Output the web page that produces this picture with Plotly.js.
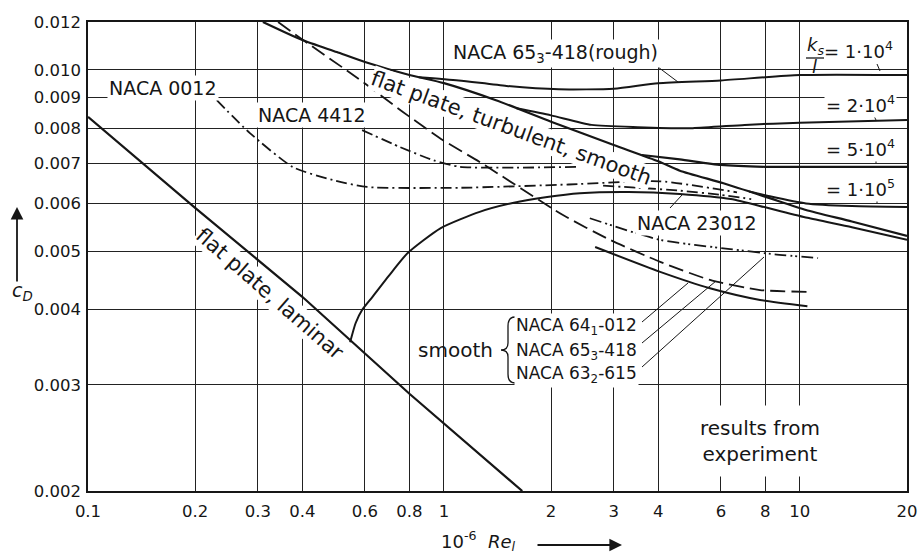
<!DOCTYPE html>
<html><head><meta charset="utf-8">
<script src="https://cdn.plot.ly/plotly-3.0.1.min.js"></script>
<style>html,body{margin:0;padding:0;background:#fff}#chart{width:920px;height:553px}</style>
</head><body><div id="chart"></div>
<script>
// ---------- data (x = 10^-6 Re, y = c_D) ----------
const xTicks = [0.1, 0.2, 0.3, 0.4, 0.6, 0.8, 1, 2, 3, 4, 6, 8, 10, 20];
const xTickText = ["0.1", "0.2", "0.3", "0.4", "0.6", "0.8", "1", "2", "3", "4", "6", "8", "10", "20"];
const yTicks = [0.002, 0.003, 0.004, 0.005, 0.006, 0.007, 0.008, 0.009, 0.010, 0.012];
const yTickText = ["0.002", "0.003", "0.004", "0.005", "0.006", "0.007", "0.008", "0.009", "0.010", "0.012"];

const laminarRe = [0.1, 0.2, 0.4, 0.8, 1.66];
const laminarCd = [0.00835, 0.0059, 0.0042, 0.0029, 0.0020];

const turbRe = [0.31, 0.4, 0.5, 0.6, 0.8, 1, 1.4, 2, 3, 4, 4.6, 6.1, 8.1, 10.4, 14, 20];
const turbCd = [0.0120, 0.0112, 0.0107, 0.0103, 0.0098, 0.0095, 0.0089, 0.0082, 0.0075, 0.00705, 0.0068, 0.00648, 0.00614, 0.00585, 0.0056, 0.0053];

const transRe = [0.545, 0.565, 0.59, 0.63, 0.7, 0.79, 0.98, 1.26, 1.56, 1.95, 2.41, 3.3, 4.6, 6.4, 8.1, 10.5, 14, 20];
const transCd = [0.00353, 0.0038, 0.0040, 0.0042, 0.00455, 0.00496, 0.00546, 0.00581, 0.00601, 0.00615, 0.00624, 0.00627, 0.00622, 0.0061, 0.0059, 0.00568, 0.00548, 0.00522];

const rough1Re = [0.85, 1.1, 1.5, 2.1, 3, 4, 6, 10, 20];
const rough1Cd = [0.00972, 0.0096, 0.0094, 0.00928, 0.0093, 0.0095, 0.0096, 0.0098, 0.0098];
const rough2Re = [1.6, 2, 2.6, 3.5, 5, 7, 10, 20];
const rough2Cd = [0.00863, 0.0084, 0.0081, 0.00803, 0.0080, 0.0081, 0.00817, 0.00825];
const rough3Re = [3.6, 4.6, 6, 8, 12, 20];
const rough3Cd = [0.00722, 0.0071, 0.00695, 0.0069, 0.0069, 0.0069];
const rough4Re = [7.2, 8.1, 10.4, 14, 20];
const rough4Cd = [0.00628, 0.00618, 0.0060, 0.00594, 0.00592];

const naca0012Re = [0.23, 0.285, 0.377, 0.488, 0.608, 1.11, 2.24, 4.04, 6.66];
const naca0012Cd = [0.0089, 0.00785, 0.00689, 0.00656, 0.00639, 0.00637, 0.00645, 0.00653, 0.00626];
const naca4412Re = [0.589, 0.753, 0.932, 1.11, 1.6, 2.41];
const naca4412Cd = [0.00794, 0.00744, 0.00708, 0.0069, 0.00688, 0.0069];
const naca23012Re = [2.8, 3.5, 4.6, 6, 7.3];
const naca23012Cd = [0.00642, 0.00637, 0.0063, 0.0062, 0.0061];
const naca653Re = [0.342, 0.402, 0.57, 0.767, 0.994, 1.26, 2.16, 2.93, 4.05, 5.59, 7.73, 10.5];
const naca653Cd = [0.0120, 0.0112, 0.0097, 0.00851, 0.00764, 0.00703, 0.00574, 0.00522, 0.0048, 0.00448, 0.00431, 0.00428];
const naca641Re = [2.66, 4.05, 5.59, 7.73, 10.5];
const naca641Cd = [0.00508, 0.00462, 0.00434, 0.00415, 0.00405];
const naca632Re = [2.57, 4.05, 6.37, 8.5, 11.25];
const naca632Cd = [0.00567, 0.00522, 0.00504, 0.00494, 0.00487];

// ---------- styling ----------
const INK = '#161616';
const FONT = 'DejaVu Sans, Liberation Sans, sans-serif';
const L = 88, T = 22, W = 819, H = 469;
const P = (px, py) => ({ x: (px - L) / W, y: (T + H - py) / H });

function curve(x, y, dash, width, spline) {
  return { x, y, type: 'scatter', mode: 'lines', hoverinfo: 'skip',
    line: { color: INK, width: width || 2, dash: dash || 'solid', shape: spline === false ? 'linear' : 'spline', smoothing: 0.6 } };
}
const DASHDOT = '11px,4px,2px,4px';
const DASHDOTDOT = '12px,4px,2px,3px,2px,4px';
const LONGDASH = '15px,6px';

const traces = [
  curve(laminarRe, laminarCd, 'solid', 2.2, false),
  curve(turbRe, turbCd, 'solid', 2.2),
  curve(transRe, transCd, 'solid', 2),
  curve(rough1Re, rough1Cd, 'solid', 2),
  curve(rough2Re, rough2Cd, 'solid', 2),
  curve(rough3Re, rough3Cd, 'solid', 2.2),
  curve(rough4Re, rough4Cd, 'solid', 2),
  curve(naca0012Re, naca0012Cd, DASHDOT, 1.8),
  curve(naca4412Re, naca4412Cd, DASHDOT, 1.8),
  curve(naca23012Re, naca23012Cd, DASHDOT, 1.8),
  curve(naca653Re, naca653Cd, LONGDASH, 1.8),
  curve(naca641Re, naca641Cd, 'solid', 2),
  curve(naca632Re, naca632Cd, DASHDOTDOT, 1.8)
];

function label(text, px, py, size, extra) {
  const p = P(px, py);
  return Object.assign({ xref: 'paper', yref: 'paper', x: p.x, y: p.y, text, showarrow: false,
    xanchor: 'center', yanchor: 'middle', font: { family: FONT, size: size, color: INK },
    bgcolor: 'white', borderpad: 1 }, extra || {});
}
function seg(x0, y0, x1, y1, w) {
  const a = P(x0, y0), b = P(x1, y1);
  return { type: 'line', xref: 'paper', yref: 'paper', x0: a.x, y0: a.y, x1: b.x, y1: b.y,
    line: { color: INK, width: w || 1 }, layer: 'above' };
}
function pt(px, py) { const p = P(px, py); return p.x.toFixed(5) + ',' + p.y.toFixed(5); }

const bracePath = 'M' + pt(515, 317) + ' Q' + pt(508, 317) + ' ' + pt(508, 326) + ' L' + pt(508, 343) +
  ' Q' + pt(508, 350) + ' ' + pt(501, 350) + ' Q' + pt(508, 350) + ' ' + pt(508, 357) +
  ' L' + pt(508, 374) + ' Q' + pt(508, 383) + ' ' + pt(515, 383);

const annotations = [
  label('NACA 0012', 163, 88, 19),
  label('NACA 4412', 312, 115, 19),
  label('NACA 65<sub>3</sub>-418(rough)', 555, 53, 19),
  label('flat plate, turbulent, smooth', 511, 128, 21, { textangle: 20, borderpad: 0 }),
  label('flat plate, laminar', 270, 294, 21, { textangle: 41, borderpad: 0 }),
  label('NACA 23012', 697, 223, 19),
  label('smooth', 455, 350, 20, { bgcolor: 'rgba(0,0,0,0)' }),
  label('NACA 64<sub>1</sub>-012', 576, 326, 17),
  label('NACA 65<sub>3</sub>-418', 576, 351, 17),
  label('NACA 63<sub>2</sub>-615', 576, 374, 17),
  label('results from<br>experiment', 760, 441, 20, { borderpad: 10 }),
  label('<i>k<sub>s</sub></i>', 815, 46, 18, { bgcolor: 'rgba(0,0,0,0)' }),
  label('<i>l</i>', 814, 67, 18, { bgcolor: 'rgba(0,0,0,0)' }),
  label('= 1·10<sup>4</sup>', 858, 50, 18, { bgcolor: 'rgba(0,0,0,0)' }),
  label('= 2·10<sup>4</sup>', 860, 104, 18),
  label('= 5·10<sup>4</sup>', 860, 148, 18),
  label('= 1·10<sup>5</sup>', 860, 188, 18),
  label('<i>c<sub>D</sub></i>', 22, 291, 19, { bgcolor: 'rgba(0,0,0,0)' }),
  label('10<sup>-6</sup>  <i>Re</i><sub><i>l</i></sub>', 478, 541, 18, { bgcolor: 'rgba(0,0,0,0)' })
];
// arrows
(function () {
  const a = P(17, 207);
  annotations.push({ xref: 'paper', yref: 'paper', x: a.x, y: a.y, ax: 0, ay: 76, text: '',
    showarrow: true, arrowhead: 2, arrowsize: 1.4, arrowwidth: 1.8, arrowcolor: INK });
  const b = P(622, 545);
  annotations.push({ xref: 'paper', yref: 'paper', x: b.x, y: b.y, ax: -86, ay: 0, text: '',
    showarrow: true, arrowhead: 2, arrowsize: 1.4, arrowwidth: 1.8, arrowcolor: INK });
})();

const shapes = [
  { type: 'path', xref: 'paper', yref: 'paper', path: bracePath, line: { color: INK, width: 1.3 }, layer: 'above' },
  seg(806, 58, 824, 58, 1.3),
  seg(658, 67, 678, 82),
  seg(877, 64, 880, 71),
  seg(873, 114, 876, 120),
  seg(876, 159, 876, 163),
  seg(877, 199, 877, 203),
  seg(670, 208, 682, 195),
  seg(642, 322, 688, 283),
  seg(642, 343, 716, 281),
  seg(642, 367, 764, 257)
];

const axisCommon = { type: 'log', showgrid: true, gridcolor: '#222', gridwidth: 1, zeroline: false,
  showline: true, linecolor: INK, linewidth: 1.6, mirror: true, ticks: '', tickmode: 'array',
  tickfont: { family: FONT, size: 16.5, color: INK } };

const layout = {
  width: 920, height: 553, margin: { l: L, r: 920 - L - W, t: T, b: 553 - T - H },
  paper_bgcolor: 'white', plot_bgcolor: 'white', showlegend: false, hovermode: false,
  xaxis: Object.assign({}, axisCommon, { range: [Math.log10(0.1), Math.log10(20)], tickvals: xTicks, ticktext: xTickText, ticklabelstandoff: 5 }),
  yaxis: Object.assign({}, axisCommon, { range: [Math.log10(0.002), Math.log10(0.012)], tickvals: yTicks, ticktext: yTickText, ticklabelstandoff: 2 }),
  annotations, shapes
};

Plotly.newPlot('chart', traces, layout, { staticPlot: true, displayModeBar: false });
</script></body></html>
